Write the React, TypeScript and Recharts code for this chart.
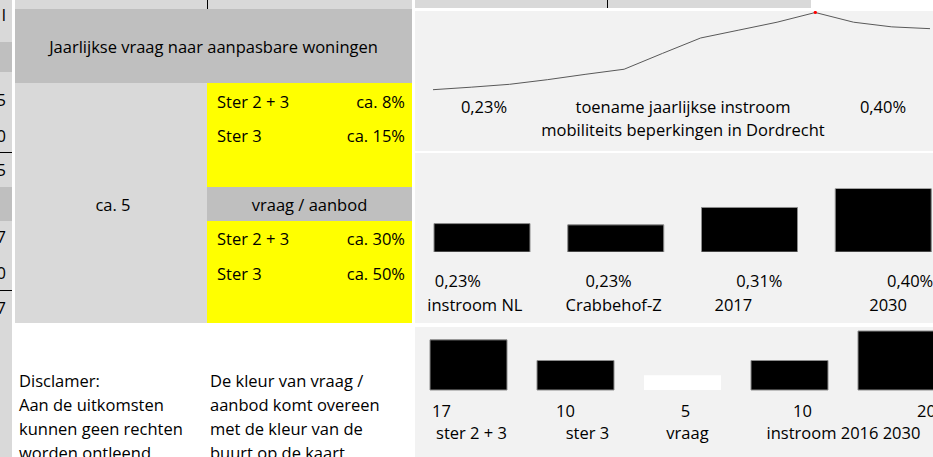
import React from "react";
import { LineChart, Line, BarChart, Bar, XAxis, YAxis, Cell } from "recharts";

// yearly inflow of mobility-limited residents, Dordrecht (percent)
const years = ["2017", "2018", "2019", "2020", "2021", "2022", "2023", "2024", "2025", "2026", "2027", "2028", "2029", "2030"];
const inflow = [0.23, 0.237, 0.245, 0.258, 0.273, 0.287, 0.331, 0.374, 0.396, 0.418, 0.445, 0.418, 0.405, 0.4];

// inflow comparison bars
const shareCats = ["instroom NL", "Crabbehof-Z", "2017", "2030"];
const shareValues = [0.234, 0.228, 0.31, 0.4];
const shareLabels = ["0,23%", "0,23%", "0,31%", "0,40%"];

// demand / supply bars
const demandCats = ["ster 2 + 3", "ster 3", "vraag", "instroom 2016", "2030"];
const demandValues = [17, 10, 5, 10, 20];
const demandLabels = ["17", "10", "5", "10", "20"];

const FONT = "'Open Sans', 'Noto Sans', sans-serif";
const FS = 16.5;

const lineData = years.map((y, i) => ({ year: y, value: inflow[i] }));
const peakIdx = inflow.indexOf(Math.max(...inflow));
const shareData = shareCats.map((c, i) => ({ name: c, value: shareValues[i], label: shareLabels[i] }));
const demandData = demandCats.map((c, i) => ({ name: c, value: demandValues[i], label: demandLabels[i] }));

// label nudges (the sheet cells don't line up with the bars)
const shareValueShift = [-24, -7, 10, 27];
const shareNameShift = [-7, -2, -16, 5];
const demandValueShift = [-27, -10, 3, 13, 30];
const demandNameShift = [3, 12, 5, 33, 5];

function TwoLineTick(props: any) {
  const { x, y, index, data, valueShift, nameShift, valueDy, nameDy } = props;
  const row = data[index];
  if (!row) return null;
  return (
    <g>
      <text x={x + valueShift[index]} y={y + valueDy} textAnchor="middle" dominantBaseline="central" fontSize={FS} fill="#000" fontFamily={FONT}>
        {row.label}
      </text>
      <text x={x + nameShift[index]} y={y + nameDy} textAnchor="middle" dominantBaseline="central" fontSize={FS} fill="#000" fontFamily={FONT}>
        {row.name}
      </text>
    </g>
  );
}

const box = (left: number, top: number, width: number, height: number, bg: string): React.CSSProperties => ({
  position: "absolute", left, top, width, height, background: bg,
});

const txt = (left: number, top: number, extra: React.CSSProperties = {}): React.CSSProperties => ({
  position: "absolute", left, top, fontSize: FS, lineHeight: "20px", whiteSpace: "nowrap", color: "#000", ...extra,
});

export default function App() {
  return (
    <div style={{ position: "fixed", left: 0, top: 0, width: 933, height: 457, overflow: "hidden", background: "#fff", fontFamily: FONT }}>
      {/* cut-off column at the far left */}
      <div style={{ ...box(0, 0, 12, 457, "#d9d9d9"), overflow: "hidden" }}>
        <div style={box(0, 42, 12, 30, "#bfbfbf")} />
        <div style={box(0, 187, 12, 34, "#bfbfbf")} />
        <div style={box(0, 152, 12, 1, "#000")} />
        <div style={box(0, 290, 12, 1, "#000")} />
        {[["l", 5], ["5", 90], ["0", 126], ["5", 160], ["7", 227], ["0", 263], ["7", 298]].map(([t, top], i) => (
          <div key={i} style={{ position: "absolute", right: 6, top: top as number, fontSize: FS, lineHeight: "20px" }}>{t}</div>
        ))}
      </div>

      {/* left table */}
      <div style={box(15, 0, 397, 9, "#d9d9d9")} />
      <div style={box(207, 0, 1, 9, "#000")} />
      <div style={box(15, 9, 397, 74, "#bfbfbf")} />
      <div style={{ ...txt(15, 37, { width: 397, textAlign: "center" }) }}>Jaarlijkse vraag naar aanpasbare woningen</div>
      <div style={box(15, 83, 192, 240, "#d9d9d9")} />
      <div style={{ ...txt(15, 195, { width: 196, textAlign: "center" }) }}>ca. 5</div>
      <div style={box(207, 83, 205, 104, "#ffff00")} />
      <div style={box(207, 187, 205, 34, "#bfbfbf")} />
      <div style={box(207, 221, 205, 102, "#ffff00")} />
      <div style={txt(217, 92)}>Ster 2 + 3</div>
      <div style={txt(207, 92, { width: 198, textAlign: "right" })}>ca. 8%</div>
      <div style={txt(217, 126)}>Ster 3</div>
      <div style={txt(207, 126, { width: 198, textAlign: "right" })}>ca. 15%</div>
      <div style={txt(207, 195, { width: 205, textAlign: "center" })}>vraag / aanbod</div>
      <div style={txt(217, 229)}>Ster 2 + 3</div>
      <div style={txt(207, 229, { width: 198, textAlign: "right" })}>ca. 30%</div>
      <div style={txt(217, 264)}>Ster 3</div>
      <div style={txt(207, 264, { width: 198, textAlign: "right" })}>ca. 50%</div>

      <div style={{ ...txt(19, 369), lineHeight: "24px" }}>
        Disclamer:<br />Aan de uitkomsten<br />kunnen geen rechten<br />worden ontleend.
      </div>
      <div style={{ ...txt(210, 369), lineHeight: "24px" }}>
        De kleur van vraag /<br />aanbod komt overeen<br />met de kleur van de<br />buurt op de kaart.
      </div>

      {/* right panels */}
      <div style={box(415, 0, 396, 8, "#d9d9d9")} />
      <div style={box(607, 0, 1, 8, "#000")} />
      <div style={box(415, 11, 518, 140, "#f2f2f2")} />
      <div style={box(415, 153, 518, 170, "#f2f2f2")} />
      <div style={box(415, 327, 518, 130, "#f2f2f2")} />

      <div style={{ position: "absolute", left: 415, top: 11 }}>
        <LineChart width={518} height={139} data={lineData} margin={{ top: 1.5, right: 3, bottom: 60.3, left: 18 }}>
          <XAxis dataKey="year" hide />
          <YAxis hide domain={[0.23, 0.445]} />
          <Line
            type="linear"
            dataKey="value"
            stroke="#595959"
            strokeWidth={1}
            isAnimationActive={false}
            dot={(p: any) =>
              p.index === peakIdx ? <circle key={p.index} cx={p.cx} cy={p.cy} r={1.6} fill="#ff0000" /> : <g key={p.index} />
            }
            activeDot={false}
          />
        </LineChart>
      </div>
      <div style={txt(415, 97, { width: 138, textAlign: "center" })}>0,23%</div>
      <div style={txt(415, 97, { width: 536, textAlign: "center" })}>toename jaarlijkse instroom</div>
      <div style={txt(415, 120, { width: 536, textAlign: "center" })}>mobiliteits beperkingen in Dordrecht</div>
      <div style={txt(833, 97, { width: 100, textAlign: "center" })}>0,40%</div>

      <div style={{ position: "absolute", left: 415, top: 153 }}>
        <BarChart width={535} height={170} data={shareData} margin={{ top: 35.4, right: 0, bottom: 0, left: 0 }}>
          <XAxis
            dataKey="name"
            height={71}
            axisLine={false}
            tickLine={false}
            tickSize={0}
            tickMargin={0}
            interval={0}
            tick={<TwoLineTick data={shareData} valueShift={shareValueShift} nameShift={shareNameShift} valueDy={28} nameDy={52} />}
          />
          <YAxis hide domain={[0.1, 0.4]} allowDataOverflow />
          <Bar dataKey="value" barSize={96} fill="#000" stroke="#8c8c8c" strokeWidth={1} isAnimationActive={false} />
        </BarChart>
      </div>

      <div style={{ position: "absolute", left: 415, top: 327 }}>
        <BarChart width={535} height={130} data={demandData} margin={{ top: 4, right: 0, bottom: 0, left: 0 }}>
          <XAxis
            dataKey="name"
            height={67}
            axisLine={false}
            tickLine={false}
            tickSize={0}
            tickMargin={0}
            interval={0}
            tick={<TwoLineTick data={demandData} valueShift={demandValueShift} nameShift={demandNameShift} valueDy={20} nameDy={42} />}
          />
          <YAxis hide domain={[0, 20]} />
          <Bar dataKey="value" barSize={77} isAnimationActive={false}>
            {demandData.map((d, i) => (
              <Cell key={i} fill={d.name === "vraag" ? "#fff" : "#000"} stroke={d.name === "vraag" ? "none" : "#8c8c8c"} />
            ))}
          </Bar>
        </BarChart>
      </div>
    </div>
  );
}
